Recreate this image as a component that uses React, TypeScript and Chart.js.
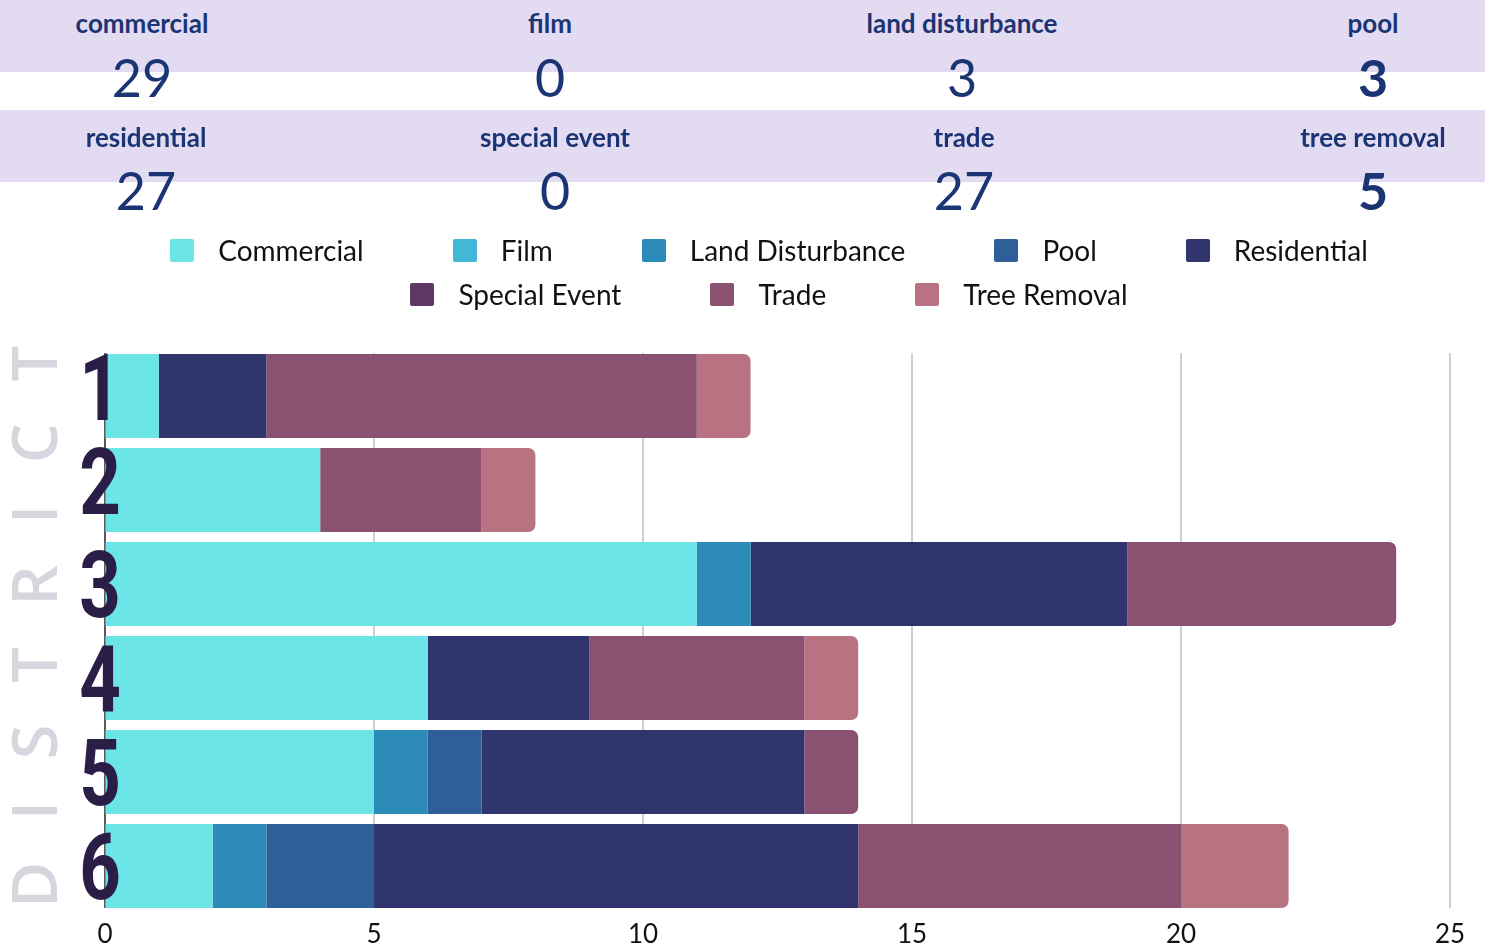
import React, { useEffect, useRef } from 'react';
import { Chart, registerables } from 'chart.js';

Chart.register(...registerables);

// ---- data ----
const districts = ['1', '2', '3', '4', '5', '6'];
const seriesNames = ['Commercial', 'Film', 'Land Disturbance', 'Pool', 'Residential', 'Special Event', 'Trade', 'Tree Removal'];
const commercial = [1, 4, 11, 6, 5, 2];
const film = [0, 0, 0, 0, 0, 0];
const landDisturbance = [0, 0, 1, 0, 1, 1];
const pool = [0, 0, 0, 0, 1, 2];
const residential = [2, 0, 7, 3, 6, 9];
const specialEvent = [0, 0, 0, 0, 0, 0];
const trade = [8, 3, 5, 4, 1, 6];
const treeRemoval = [1, 1, 0, 1, 0, 2];
const seriesColors = ['#6be5e8', '#42b8d6', '#2d8bba', '#2f5f99', '#31356e', '#5d3865', '#8a5270', '#b97281'];
const xTickMin = 0;
const xTickMax = 25;
const xTickStep = 5;
const axisTitle = 'DISTRICT';

const summaryLabelsRow1 = ['commercial', 'film', 'land disturbance', 'pool'];
const summaryValuesRow1 = [29, 0, 3, 3];
const summaryLabelsRow2 = ['residential', 'special event', 'trade', 'tree removal'];
const summaryValuesRow2 = [27, 0, 27, 5];

const seriesValues = [commercial, film, landDisturbance, pool, residential, specialEvent, trade, treeRemoval];

const NAVY = '#1b3473';
const CANVAS_H = 959;
// small vertical nudges of the big district labels (layout only)
const LABEL_NUDGE = [-9, -9, 0, 0, 0, 0];

const gridPlugin = {
  id: 'barSpanGrid',
  beforeDatasetsDraw(chart: any) {
    const ctx = chart.ctx;
    const xScale = chart.scales.x;
    const meta = chart.getDatasetMeta(0);
    const first = meta.data[0];
    const last = meta.data[meta.data.length - 1];
    if (!first || !last) return;
    const top = first.y - first.height / 2 - 1;
    const bottom = last.y + last.height / 2;
    ctx.save();
    ctx.lineWidth = 2;
    xScale.ticks.forEach((t: any) => {
      const px = xScale.getPixelForValue(t.value);
      ctx.strokeStyle = t.value === 0 ? '#5a5a5a' : '#cfcfcf';
      ctx.beginPath();
      ctx.moveTo(px, top);
      ctx.lineTo(px, bottom);
      ctx.stroke();
    });
    ctx.restore();
  },
};

const districtPlugin = {
  id: 'districtDecor',
  afterDatasetsDraw(chart: any) {
    const ctx = chart.ctx;
    const yScale = chart.scales.y;
    // big condensed district numbers
    ctx.save();
    ctx.fillStyle = '#2a1e46';
    const fs = 93;
    ctx.font = `bold ${fs}px Roboto`;
    ctx.textAlign = 'center';
    ctx.textBaseline = 'alphabetic';
    (chart.data.labels as string[]).forEach((lab, i) => {
      const py = yScale.getPixelForValue(i) + (LABEL_NUDGE[i] || 0);
      ctx.save();
      ctx.translate(100, py + fs * 0.711 / 2);
      ctx.scale(0.78, 1);
      ctx.fillText(lab, 0, 0);
      ctx.restore();
    });
    ctx.restore();

    // vertical spaced title
    ctx.save();
    ctx.fillStyle = '#d8d5de';
    ctx.font = '600 63px "Open Sans"';
    ctx.translate(57, 908);
    ctx.rotate(-Math.PI / 2);
    const w0 = ctx.measureText(axisTitle).width;
    const span = 562;
    const ls = (span - w0) / (axisTitle.length - 1);
    (ctx as any).letterSpacing = `${ls}px`;
    ctx.textAlign = 'left';
    ctx.textBaseline = 'alphabetic';
    ctx.fillText(axisTitle, 0, 0);
    ctx.restore();
  },
};

export default function App() {
  const canvasRef = useRef<HTMLCanvasElement | null>(null);

  useEffect(() => {
    document.body.style.margin = '0';
    document.body.style.overflow = 'hidden';
    const canvas = canvasRef.current;
    if (!canvas) return;
    const chart = new Chart(canvas, {
      type: 'bar',
      data: {
        labels: districts,
        datasets: seriesNames.map((name, i) => ({
          label: name,
          data: seriesValues[i],
          backgroundColor: seriesColors[i],
          borderWidth: 0,
          borderRadius: 7,
          barPercentage: 0.894,
          categoryPercentage: 1,
        })),
      },
      options: {
        indexAxis: 'y',
        responsive: false,
        animation: false,
        layout: { padding: { left: 105, right: 35, top: 349, bottom: 2 } },
        plugins: {
          legend: { display: false },
          tooltip: { enabled: false },
        },
        scales: {
          x: {
            stacked: true,
            min: xTickMin,
            max: xTickMax,
            ticks: {
              stepSize: xTickStep,
              color: '#111',
              padding: 9,
              font: { family: 'Lato', size: 26, lineHeight: 1 },
            },
            grid: {
              display: true,
              drawOnChartArea: false,
              drawTicks: false,
              tickLength: 0,
            },
            border: { display: false },
          },
          y: {
            stacked: true,
            display: false,
            grid: { display: false },
          },
        },
      },
      plugins: [gridPlugin, districtPlugin],
    } as any);
    return () => chart.destroy();
  }, []);

  const col1 = [142, 550, 962, 1373];
  const col2 = [146, 555, 964, 1373];

  const labelStyle = (x: number, top: number): React.CSSProperties => ({
    position: 'absolute',
    left: x,
    top,
    transform: 'translateX(-50%)',
    fontFamily: 'Lato, sans-serif',
    fontWeight: 700,
    fontSize: 26,
    lineHeight: 1,
    color: NAVY,
    whiteSpace: 'nowrap',
  });
  const numStyle = (x: number, top: number, bold: boolean): React.CSSProperties => ({
    position: 'absolute',
    left: x,
    top,
    transform: 'translateX(-50%)',
    fontFamily: 'Lato, sans-serif',
    fontWeight: bold ? 700 : 400,
    fontSize: 52,
    lineHeight: 1,
    color: NAVY,
    whiteSpace: 'nowrap',
  });

  const legendItem = (i: number) => (
    <div key={seriesNames[i]} style={{ display: 'flex', alignItems: 'center', marginRight: i === 4 || i === 7 ? 0 : 89 }}>
      <div style={{ width: 24, height: 23, background: seriesColors[i], borderRadius: 2, marginRight: 24 }} />
      <span style={{ fontFamily: 'Lato, sans-serif', fontSize: 28, lineHeight: 1, color: '#111', whiteSpace: 'nowrap' }}>{seriesNames[i]}</span>
    </div>
  );

  return (
    <div style={{ position: 'relative', width: 1485, height: 948, background: '#fff', overflow: 'hidden' }}>
      <canvas ref={canvasRef} width={1485} height={CANVAS_H} style={{ position: 'absolute', left: 0, top: 0 }} />
      <div style={{ position: 'absolute', left: 0, top: 0, width: 1485, height: 72, background: '#e2dbf2' }} />
      <div style={{ position: 'absolute', left: 0, top: 110, width: 1485, height: 72, background: '#e2dbf2' }} />
      {summaryLabelsRow1.map((l, i) => (
        <div key={'l1' + l} style={labelStyle(col1[i], 10)}>{l}</div>
      ))}
      {summaryValuesRow1.map((v, i) => (
        <div key={'v1' + i} style={numStyle(col1[i], 51, i === 3)}>{v}</div>
      ))}
      {summaryLabelsRow2.map((l, i) => (
        <div key={'l2' + l} style={labelStyle(col2[i], 124)}>{l}</div>
      ))}
      {summaryValuesRow2.map((v, i) => (
        <div key={'v2' + i} style={numStyle(col2[i], 164, i === 3)}>{v}</div>
      ))}
      <div style={{ position: 'absolute', left: 54, top: 236, width: 1430, display: 'flex', flexDirection: 'column', alignItems: 'center', rowGap: 16 }}>
        <div style={{ display: 'flex' }}>{[0, 1, 2, 3, 4].map(legendItem)}</div>
        <div style={{ display: 'flex' }}>{[5, 6, 7].map(legendItem)}</div>
      </div>
    </div>
  );
}
